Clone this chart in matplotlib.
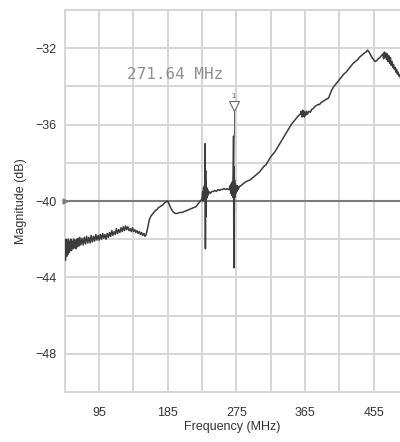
import matplotlib
matplotlib.use("Agg")
import matplotlib.pyplot as plt

# ---- data ----
freq_mhz = [
    50.5, 51.2, 52.0, 52.8, 53.5, 54.3, 55.0, 55.8, 56.6, 57.5, 58.3, 59.1, 60.0, 61.0, 62.0, 63.0,
    64.0, 65.0, 66.0, 67.0, 68.0, 69.0, 70.0, 71.5, 73.0, 74.5, 76.0, 77.5, 79.0, 80.5, 82.0, 83.5,
    85.0, 86.5, 88.0, 89.5, 91.0, 92.5, 94.0, 95.5, 97.0, 98.5, 100.0, 101.5, 103.0, 104.5, 106.0,
    107.5, 109.0, 110.5, 112.0, 113.5, 115.0, 116.5, 118.0, 119.5, 121.0, 122.5, 124.0, 125.5,
    127.0, 128.5, 130.0, 131.5, 133.0, 134.5, 136.0, 137.5, 139.0, 140.5, 142.0, 143.5, 145.0,
    146.5, 148.0, 149.5, 151.0, 152.5, 154.0, 155.5, 157.0,
    159, 161, 163, 165, 167, 169, 171, 173, 175, 177, 179, 181, 183, 185, 187, 189, 191, 193, 195,
    198, 201, 204, 207, 210, 213, 216, 219, 222, 225, 228,
    230, 231, 231.6, 232.2, 232.8, 233.3, 233.8, 234.3, 234.6, 234.9, 235.2, 235.5, 235.9, 236.3,
    236.8, 237.4, 238, 239, 241, 243, 245, 247, 249, 251, 253, 255, 257, 259, 261, 263, 265,
    266, 267, 267.8, 268.5, 269.2, 269.8, 270.4, 271.0, 271.5, 271.8, 272.1, 272.4, 272.8, 273.3,
    273.8, 274.4, 275, 275.8, 276.6, 277.5, 279, 281, 284, 287, 290, 293, 296, 299, 302, 305, 308,
    311, 314, 317, 320, 323, 326, 329, 332, 335, 338, 341, 344, 347, 350, 353, 356, 359,
    360, 361, 362, 362.7, 363.5, 364.3, 365, 366, 367, 368.5, 370, 372, 374, 376, 378, 380, 382,
    384, 386, 388, 390, 392, 394, 396, 398, 400, 402, 404, 406, 408, 410, 413, 416, 419, 422, 425,
    428, 431, 434, 437, 440, 443, 445, 447, 449, 451, 453, 455, 457, 459, 461, 463, 465, 467, 468,
    469, 470, 471, 472, 473, 474, 475, 476, 477, 478, 479, 480, 481, 482, 483, 484, 485, 486, 487,
    488, 489, 490,
]
magnitude_db = [
    -42.1, -43.1, -42.0, -42.9, -42.2, -42.8, -42.0, -42.7, -42.1, -42.6, -42.0, -42.6, -42.1,
    -42.5, -42.0, -42.45, -42.05, -42.5, -42.0, -42.4, -41.95, -42.35, -41.9, -42.3, -41.95,
    -42.3, -41.9, -42.25, -41.85, -42.2, -41.9, -42.2, -41.8, -42.15, -41.85, -42.1, -41.75,
    -42.05, -41.8, -42.05, -41.75, -42.0, -41.7, -41.95, -41.75, -42.0, -41.7, -41.9, -41.65,
    -41.85, -41.55, -41.8, -41.6, -41.75, -41.45, -41.7, -41.5, -41.65, -41.4, -41.6, -41.35,
    -41.55, -41.3, -41.5, -41.35, -41.55, -41.45, -41.6, -41.4, -41.6, -41.5, -41.65, -41.55,
    -41.7, -41.6, -41.75, -41.65, -41.8, -41.7, -41.85, -41.75,
    -41.4, -41.0, -40.8, -40.7, -40.6, -40.5, -40.45, -40.35, -40.3, -40.25, -40.2, -40.1,
    -40.05, -40.0, -40.15, -40.35, -40.5, -40.6, -40.65, -40.65, -40.6, -40.6, -40.55, -40.5,
    -40.45, -40.4, -40.35, -40.3, -40.15, -40.0,
    -39.9, -39.5, -40.0, -39.3, -39.9, -39.2, -39.8, -37.0, -42.5, -38.4, -40.8, -39.0, -39.9,
    -39.3, -39.8, -39.4, -39.7, -39.5, -39.6, -39.5, -39.5, -39.45, -39.5, -39.4, -39.45, -39.4,
    -39.4, -39.35, -39.4, -39.35, -39.4,
    -39.4, -39.2, -39.6, -39.1, -39.7, -39.0, -39.8, -38.6, -36.6, -43.5, -38.2, -40.6, -38.9,
    -39.8, -39.1, -39.6, -39.2, -39.5, -39.2, -39.4, -39.25, -39.2, -39.1, -39.0, -38.95, -38.9,
    -38.8, -38.7, -38.6, -38.5, -38.35, -38.2, -38.1, -37.9, -37.7, -37.55, -37.4, -37.2, -37.0,
    -36.8, -36.6, -36.4, -36.2, -36.0, -35.85, -35.7, -35.55, -35.45,
    -35.3, -35.6, -35.25, -35.55, -35.3, -35.6, -35.35, -35.5, -35.3, -35.45, -35.3, -35.35,
    -35.2, -35.15, -35.05, -35.0, -34.95, -34.95, -34.85, -34.8, -34.75, -34.7, -34.65, -34.6,
    -34.4, -34.2, -34.05, -33.95, -33.85, -33.75, -33.65, -33.5, -33.35, -33.25, -33.1, -32.95,
    -32.8, -32.7, -32.6, -32.45, -32.35, -32.25, -32.2, -32.1, -32.2, -32.35, -32.5, -32.6, -32.7,
    -32.65, -32.55, -32.5, -32.4, -32.3, -32.55, -32.2, -32.5, -32.25, -32.6, -32.3, -32.7,
    -32.4, -32.8, -32.5, -32.9, -32.7, -33.0, -32.85, -33.1, -33.0, -33.25, -33.1, -33.35,
    -33.25, -33.45, -33.4, -33.55,
]

x_major_ticks = [95, 185, 275, 365, 455]
x_grid_extra = [50, 140, 230, 320, 410, 500]
y_major_ticks = [-48, -44, -40, -36, -32]
y_grid_extra = [-50, -46, -42, -38, -34, -30]
reference_level = -40
marker_freq = 271.64
marker_label = "271.64 MHz"
marker_top = -35.3
marker_spike_top = -36.6

plt.rcParams['font.family'] = ['Liberation Sans', 'DejaVu Sans']

fig = plt.figure(figsize=(4.0, 4.42), dpi=100)
fig.patch.set_facecolor('white')
ax = fig.add_axes([64.5 / 400, 50 / 442, (400 - 64.5) / 400, 382 / 442])

ax.set_xticks(x_major_ticks)
ax.set_xticks(x_grid_extra, minor=True)
ax.set_yticks(y_major_ticks)
ax.set_yticks(y_grid_extra, minor=True)
ax.set_xlim(50, 489.5)
ax.set_ylim(-50, -30)

ax.grid(True, which='both', color='#d6d6d6', linewidth=1.4)
ax.set_axisbelow(True)
ax.tick_params(which='both', length=0)
ax.tick_params(axis='x', pad=11, labelsize=9, labelcolor='#333333')
ax.tick_params(axis='y', pad=6, labelsize=9, labelcolor='#333333')

for side in ['left', 'top', 'bottom']:
    ax.spines[side].set_color('#d6d6d6')
    ax.spines[side].set_linewidth(1.4)
ax.spines['right'].set_visible(False)

# reference line
ax.axhline(reference_level, color='#7c7c7c', linewidth=1.5, zorder=2)
ax.plot([50], [reference_level], marker='>', markersize=3.5,
        color='#7c7c7c', clip_on=False, zorder=3)

# trace
ax.plot(freq_mhz, magnitude_db, color='#3c3c3c', linewidth=1.1, zorder=4)

# marker
ax.plot([marker_freq, marker_freq], [marker_top, marker_spike_top], color='#555555',
        linewidth=0.7, zorder=4)
ax.plot([marker_freq], [marker_top + 0.25], marker='v', markersize=6.5,
        markerfacecolor='white', markeredgecolor='#666666', markeredgewidth=0.8, zorder=5)
ax.text(marker_freq, marker_top + 0.75, "1", ha='center', va='center', fontsize=5.5,
        color='#555555', zorder=5)
ax.text(131.5, -33.37, marker_label, ha='left', va='center', fontsize=11.5,
        family='DejaVu Sans Mono', color='#8f8f8f', zorder=5)

ax.set_xlabel("Frequency (MHz)", fontsize=9, color='#333333', labelpad=1)
ax.set_ylabel("Magnitude (dB)", fontsize=9, color='#333333', labelpad=6)

fig.savefig("out.png", dpi=100, facecolor='white')
